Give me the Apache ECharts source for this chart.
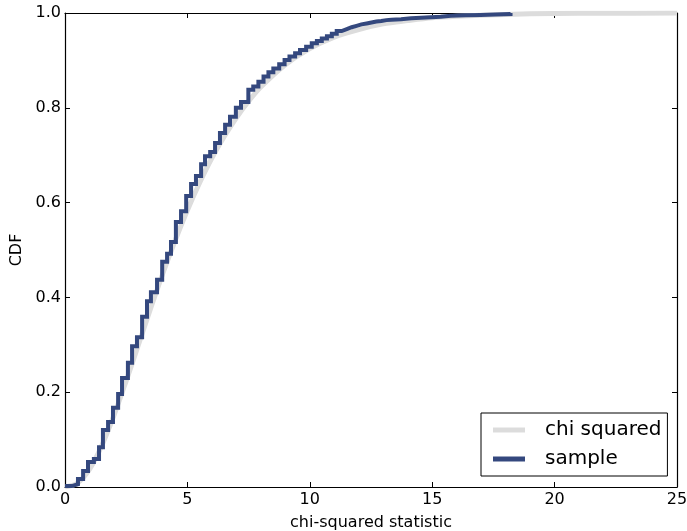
<!DOCTYPE html>
<html>
<head>
<meta charset="utf-8">
<script src="https://cdn.jsdelivr.net/npm/echarts@6/dist/echarts.min.js"></script>
<style>
html,body{margin:0;padding:0;background:#fff;}
#chart{width:687px;height:531px;}
</style>
</head>
<body>
<div id="chart"></div>
<script>
// Chi-squared model CDF
const chiX = [0, 0.5, 1, 1.5, 2, 2.5, 3, 3.5, 4, 4.5, 5, 5.5, 6, 6.5, 7, 7.5, 8, 9, 10, 11, 12, 13, 14, 15, 16, 18, 20, 22, 25];
const chiY = [0, 0.008, 0.037, 0.087, 0.151, 0.224, 0.300, 0.377, 0.451, 0.520, 0.584, 0.642, 0.694, 0.739, 0.779, 0.814, 0.844, 0.891, 0.925, 0.949, 0.965, 0.977, 0.984, 0.990, 0.993, 0.997, 0.999, 0.9995, 0.9999];

const sampleX = [0, 0.28, 0.53, 0.74, 0.94, 1.18, 1.39, 1.55, 1.76, 1.96, 2.17, 2.33, 2.57, 2.74, 2.94, 3.15, 3.35, 3.51, 3.76, 3.97, 4.17, 4.33, 4.53, 4.74, 4.95, 5.15, 5.35, 5.56, 5.72, 5.93, 6.13, 6.33, 6.54, 6.74, 6.98, 7.19, 7.49, 7.69, 7.90, 8.11, 8.31, 8.51, 8.75, 8.97, 9.17, 9.40, 9.60, 9.85, 10.08, 10.29, 10.49, 10.70, 10.90, 11.10, 11.30, 11.51, 11.71, 11.91, 12.11, 12.32, 12.52, 12.72, 12.92, 13.13, 13.33, 13.73, 14.14, 14.54, 14.95, 15.35, 15.76, 16.36, 16.97, 17.58, 18.2];
const sampleY = [0.002, 0.006, 0.017, 0.034, 0.053, 0.059, 0.084, 0.120, 0.137, 0.167, 0.196, 0.230, 0.262, 0.297, 0.316, 0.359, 0.392, 0.411, 0.437, 0.475, 0.492, 0.517, 0.559, 0.582, 0.614, 0.639, 0.656, 0.681, 0.698, 0.707, 0.726, 0.747, 0.764, 0.781, 0.800, 0.812, 0.838, 0.845, 0.855, 0.866, 0.875, 0.883, 0.892, 0.901, 0.908, 0.915, 0.922, 0.929, 0.936, 0.941, 0.946, 0.951, 0.956, 0.962, 0.966, 0.970, 0.973, 0.976, 0.978, 0.980, 0.982, 0.983, 0.985, 0.986, 0.987, 0.989, 0.990, 0.991, 0.992, 0.994, 0.995, 0.996, 0.997, 0.998, 1.0];

const xTicks = [0, 5, 10, 15, 20, 25];
const yTicks = ['0.0', '0.2', '0.4', '0.6', '0.8', '1.0'];

const FONT = 'DejaVu Sans';
const chart = echarts.init(document.getElementById('chart'), null, {renderer: 'canvas'});

const axisLineStyle = {color: '#000', width: 1.2};
const tick = {show: true, inside: true, length: 5, lineStyle: {color: '#000', width: 1}};

chart.setOption({
  animation: false,
  backgroundColor: '#fff',
  grid: {left: 65, right: 10, top: 13, bottom: 44, containLabel: false, outerBoundsMode: 'none'},
  legend: {
    orient: 'vertical',
    left: 481, top: 413,
    padding: [7, 6, 7, 12],
    itemGap: 9,
    itemWidth: 32, itemHeight: 5,
    icon: 'rect',
    borderColor: '#000', borderWidth: 1, borderRadius: 0,
    textStyle: {fontFamily: FONT, fontSize: 20, color: '#000', padding: [0, 0, 0, 15]},
    data: ['chi squared', 'sample']
  },
  xAxis: [{
    type: 'value', min: 0, max: 25, interval: 5,
    axisLine: {show: true, lineStyle: axisLineStyle},
    axisTick: tick,
    splitLine: {show: false},
    axisLabel: {fontFamily: FONT, fontSize: 16, color: '#000', margin: 5,
      formatter: v => xTicks.includes(v) ? String(v) : ''},
    name: 'chi-squared statistic', nameLocation: 'middle', nameGap: 28,
    nameTextStyle: {fontFamily: FONT, fontSize: 16, color: '#000'}
  }, {
    type: 'value', min: 0, max: 25, interval: 5, position: 'top',
    axisLine: {show: true, onZero: false, lineStyle: axisLineStyle},
    axisTick: tick, axisLabel: {show: false}, splitLine: {show: false}
  }],
  yAxis: [{
    type: 'value', min: 0, max: 1, interval: 0.2,
    axisLine: {show: true, onZero: false, lineStyle: axisLineStyle},
    axisTick: tick,
    splitLine: {show: false},
    axisLabel: {fontFamily: FONT, fontSize: 16, color: '#000', margin: 4,
      formatter: v => yTicks[Math.round(v * 5)]},
    name: 'CDF', nameLocation: 'middle', nameGap: 36, nameRotate: 90,
    nameTextStyle: {fontFamily: FONT, fontSize: 16, color: '#000'}
  }, {
    type: 'value', min: 0, max: 1, interval: 0.2, position: 'right',
    axisLine: {show: true, onZero: false, lineStyle: axisLineStyle},
    axisTick: tick, axisLabel: {show: false}, splitLine: {show: false}
  }],
  series: [{
    name: 'chi squared', type: 'line',
    data: chiX.map((x, i) => [x, chiY[i]]),
    smooth: 0.3, showSymbol: false, symbol: 'none',
    lineStyle: {color: '#dcdcdc', width: 5},
    itemStyle: {color: '#dcdcdc'},
    z: 2
  }, {
    name: 'sample', type: 'line',
    data: sampleX.map((x, i) => [x, sampleY[i]]),
    step: 'end', showSymbol: false, symbol: 'none',
    lineStyle: {color: '#34487e', width: 4, join: 'miter'},
    itemStyle: {color: '#34487e'},
    z: 3
  }]
});
</script>
</body>
</html>
